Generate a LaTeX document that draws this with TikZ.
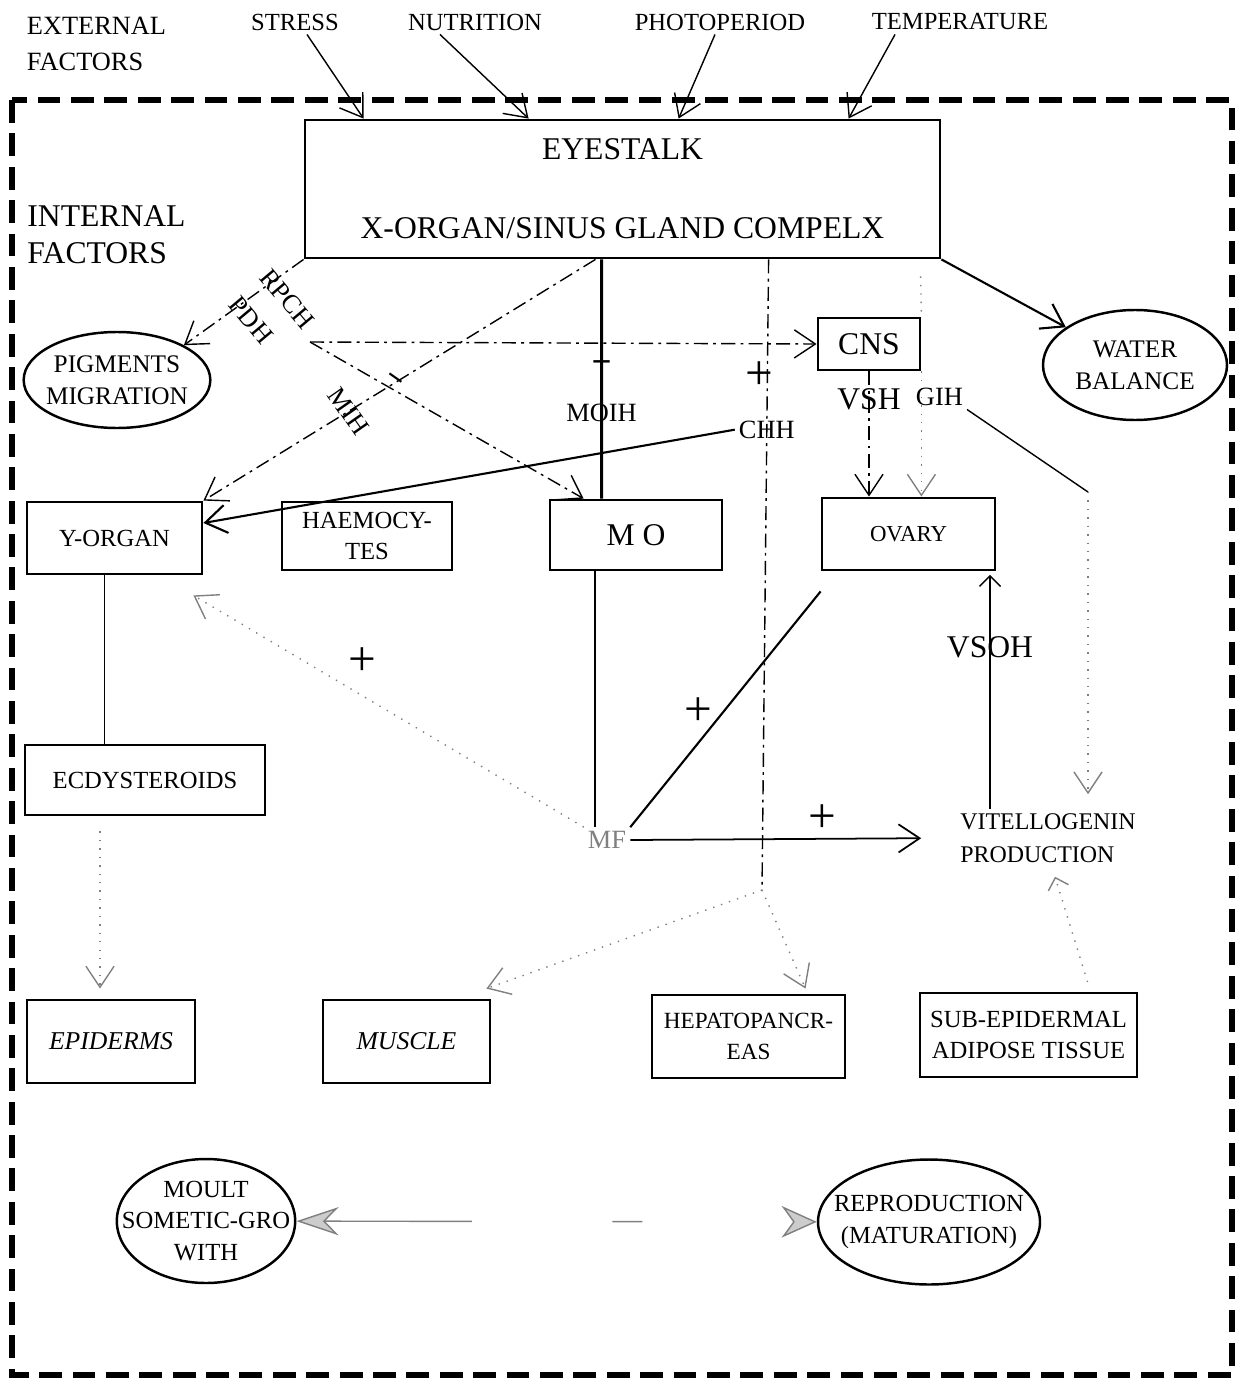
\documentclass[tikz,border=0pt]{standalone}
\usepackage{fontspec}
\setmainfont{Liberation Serif}
\usetikzlibrary{arrows.meta,shapes.geometric,calc}

\begin{document}
\begin{tikzpicture}[
    >={Straight Barb[length=6pt,width=8pt]},
    box/.style={draw, line width=0.8pt, inner sep=1pt, align=center, font=\fontsize{7}{9}\selectfont},
    blob/.style={draw, ellipse, line width=0.7pt, inner sep=0pt, align=center, font=\fontsize{7.2}{9}\selectfont},
    lbl/.style={inner sep=1pt, font=\fontsize{7.5}{9}\selectfont},
    big/.style={inner sep=1pt, font=\fontsize{9}{10.5}\selectfont},
    sign/.style={inner sep=0pt, font=\fontsize{14}{14}\selectfont},
    hormone/.style={thin, dash pattern=on 4pt off 1.5pt on 0.8pt off 1.5pt},
    faint/.style={thin, gray, dotted},
    frame/.style={line width=1.8pt, dash pattern=on 6.5pt off 3pt},
    smalltip/.style={-{Straight Barb[length=3pt,width=6pt]}}
]
\useasboundingbox (0,0) rectangle (12.42,-13.83);
\draw[frame] (0.12,-1.0) rectangle (12.32,-13.75);

\node[lbl, align=left, font=\fontsize{7.5}{10}\selectfont] (ext) at (0.965,-0.44) {EXTERNAL\\FACTORS};
\node[lbl, font=\fontsize{7}{8}\selectfont] (stress) at (2.95,-0.22) {STRESS};
\node[lbl, font=\fontsize{7}{8}\selectfont] (nutr) at (4.75,-0.22) {NUTRITION};
\node[lbl, font=\fontsize{7}{8}\selectfont] (photo) at (7.2,-0.22) {PHOTOPERIOD};
\node[lbl, font=\fontsize{7}{8}\selectfont] (temp) at (9.6,-0.22) {TEMPERATURE};

\node[box, big, minimum width=6.35cm, minimum height=1.38cm] (eyestalk) at (6.225,-1.89) {EYESTALK\\[12pt]X-ORGAN/SINUS GLAND COMPELX};
\node[big, align=left, font=\fontsize{9}{10.5}\selectfont] (int) at (1.065,-2.35) {INTERNAL\\FACTORS};

\node[blob, inner xsep=-0.05cm, minimum width=1.84cm, minimum height=0.96cm] (pigm) at (1.17,-3.80) {PIGMENTS\\MIGRATION};
\node[blob, minimum width=1.84cm, minimum height=1.1cm] (water) at (11.35,-3.65) {WATER\\BALANCE};
\node[box, big, minimum width=1.02cm, minimum height=0.52cm] (cns) at (8.69,-3.44) {CNS};

\node[box, minimum width=1.75cm, minimum height=0.72cm] (yorgan) at (1.145,-5.38) {Y-ORGAN};
\node[box, minimum width=1.70cm, minimum height=0.68cm] (haemo) at (3.67,-5.36) {HAEMOCY-\\TES};
\node[box, big, minimum width=1.72cm, minimum height=0.70cm] (mo) at (6.36,-5.35) {M O};
\node[box, minimum width=1.73cm, minimum height=0.72cm, font=\fontsize{6.5}{8}\selectfont] (ovary) at (9.085,-5.34) {OVARY};
\node[box, minimum width=2.4cm, minimum height=0.70cm] (ecdy) at (1.45,-7.80) {ECDYSTEROIDS};
\node[lbl, align=left, font=\fontsize{6.8}{9.4}\selectfont] (vitello) at (10.48,-8.38) {VITELLOGENIN\\PRODUCTION};
\node[lbl, gray] (mf) at (6.07,-8.40) {MF};

\node[box, minimum width=1.68cm, minimum height=0.83cm, font=\fontsize{7.3}{9}\selectfont\itshape] (epid) at (1.11,-10.415) {EPIDERMS};
\node[box, minimum width=1.67cm, minimum height=0.83cm, font=\fontsize{7.3}{9}\selectfont\itshape] (muscle) at (4.065,-10.415) {MUSCLE};
\node[box, minimum width=1.93cm, minimum height=0.83cm, font=\fontsize{6.6}{8.8}\selectfont] (hepato) at (7.485,-10.365) {HEPATOPANCR-\\EAS};
\node[box, minimum width=2.17cm, minimum height=0.84cm] (subepi) at (10.285,-10.35) {SUB-EPIDERMAL\\ADIPOSE TISSUE};

\node[blob, inner xsep=-0.21cm, minimum width=1.78cm, minimum height=1.24cm, font=\fontsize{7}{9}\selectfont] (moult) at (2.06,-12.21) {MOULT\\SOMETIC-GRO\\WITH};
\node[blob, inner xsep=-0.17cm, minimum width=2.22cm, minimum height=1.25cm, font=\fontsize{7}{9}\selectfont] (repro) at (9.29,-12.22) {REPRODUCTION\\(MATURATION)};

\node[lbl, rotate=-50] (rpch) at (2.87,-2.99) {RPCH};
\node[lbl, rotate=-50] (pdh) at (2.51,-3.20) {PDH};
\coordinate (split) at (3.10,-3.42);
\coordinate (chj) at (7.62,-8.90);
\coordinate (gbend) at (10.88,-4.92);

\draw[->] ([xshift=0.12cm]stress.south) -- ($(eyestalk.north west)+(0.6,0)$);
\draw[->] ([xshift=-0.35cm]nutr.south) -- ($(eyestalk.north west)+(2.25,0)$);
\draw[->] ([xshift=-0.05cm]photo.south) -- ($(eyestalk.north west)+(3.75,0)$);
\draw[->] ([xshift=-0.65cm]temp.south) -- ($(eyestalk.north west)+(5.45,0)$);

\draw[hormone, ->] (eyestalk.south west) -- (pigm.north east);
\draw[hormone, ->] (split) -- (cns.west);
\draw[hormone, ->] (split) -- node[pos=0.29, above, rotate=-35, inner sep=0pt, font=\fontsize{9}{9}\selectfont\bfseries]{−} ($(mo.north west)+(0.35,0)$);
\draw[hormone, ->] ($(eyestalk.south)+(-0.27,0)$) -- node[lbl, pos=0.63, rotate=-55]{MIH} (yorgan.north east);
\draw[line width=0.9pt] ($(eyestalk.south west)+(2.98,0)$) -- node[pos=0.45, inner sep=0pt, font=\fontsize{10}{10}\selectfont\bfseries]{−} node[lbl, pos=0.64]{MOIH} ($(mo.north west)+(0.53,0)$);
\draw[hormone] ($(eyestalk.south west)+(4.65,0)$) -- node[sign, pos=0.185, xshift=-0.08cm]{+} node[lbl, pos=0.27] (chh) {CHH} (chj);
\draw[line width=0.6pt, ->] (chh.west) -- ($(yorgan.east)+(0,0.15)$);
\draw[faint, ->] (chj) -- ($(muscle.north east)+(-0.05,0.1)$);
\draw[faint, ->] (chj) -- ($(hepato.north)+(0.57,0.05)$);
\draw[line width=0.6pt, ->] (eyestalk.south east) -- (water);

\draw[hormone, ->] (cns.south) -- node[big, pos=0.22]{VSH} (cns.south |- ovary.north);
\draw[faint] ($(eyestalk.south west)+(6.17,-0.17)$) -- (cns.north east);
\draw[faint, ->] (cns.south east) -- node[lbl, black, pos=0.2, xshift=0.18cm] (gih) {GIH} (cns.south east |- ovary.north);
\draw[thin] (gih.south east) -- (gbend);
\draw[faint, ->, shorten >=0.15cm] (gbend) -- (gbend |- vitello.north);
\draw[thin, smalltip, shorten >=1pt] ([xshift=-0.58cm]vitello.north) -- node[big, pos=0.68]{VSOH} ([xshift=-0.58cm]vitello.north |- ovary.south);

\draw[thin] ([xshift=-0.1cm]yorgan.south) -- ([xshift=-0.1cm]yorgan.south |- ecdy.north);
\draw[faint, ->, shorten <=0.15cm, shorten >=0.1cm] ([xshift=-0.45cm]ecdy.south) -- ([xshift=-0.45cm]ecdy.south |- epid.north);
\draw[thin] ([xshift=-0.41cm]mo.south) -- ([xshift=-0.41cm]mo.south |- mf.north);

\draw[faint, ->] (mf.north west) -- ([shift={(-0.1,-0.2)}]yorgan.south east);
\node[sign] (plusy) at (3.62,-6.62) {+};
\draw[line width=0.6pt] (mf.north east) -- ([yshift=-0.2cm]ovary.south west);
\node[sign] (pluso) at (6.98,-7.12) {+};
\draw[line width=0.5pt, ->, shorten >=0.35cm] (mf.east) -- node[sign, pos=0.59, above=0.05cm]{+} (vitello.west);
\draw[faint, smalltip, shorten <=0.1cm] ([xshift=0.62cm]subepi.north) -- ([xshift=0.07cm, yshift=-0.1cm]vitello.south);

\draw[gray, thin, dash pattern=on 42pt off 40pt on 8.5pt off 100pt, {Stealth[length=12pt,width=8pt,fill=gray!40]}-{Stealth[length=10pt,width=9pt,fill=gray!40]}] (moult) -- (repro);
\end{tikzpicture}
\end{document}
